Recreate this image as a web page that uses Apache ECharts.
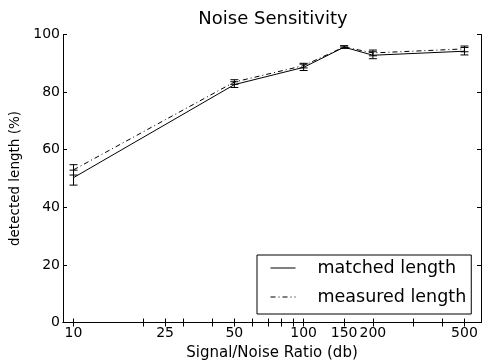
<!DOCTYPE html>
<html>
<head>
<meta charset="utf-8">
<script src="https://cdn.jsdelivr.net/npm/echarts@6/dist/echarts.min.js"></script>
<style>html,body{margin:0;padding:0;background:#fff}#c{width:483px;height:360px}</style>
</head>
<body>
<div id="c"></div>
<script>
const xTickLabels = [10, 25, 50, 100, 150, 200, 500];
const xTicks = [10, 20, 25, 30, 40, 50, 60, 70, 80, 90, 100, 150, 200, 300, 400, 500];
const snr = [10, 50, 100, 150, 200, 500];
const matched = [50.3, 82.6, 88.6, 95.6, 92.8, 94.2];
const matchedErr = [2.6, 1.0, 1.1, 0.4, 1.2, 1.3];
const measured = [53.0, 83.5, 89.2, 95.7, 93.6, 95.0];
const measuredErr = [1.8, 0.8, 0.8, 0.4, 1.0, 1.0];
const xMin = 9, xMax = 590;

const FONT = 'DejaVu Sans';
const lg = v => Math.log10(v);
const chart = echarts.init(document.getElementById('c'));

function errBar(params, api) {
  const x = api.value(0), y = api.value(1), e = api.value(2);
  const t = api.coord([x, y + e]), b = api.coord([x, y - e]);
  const w = 4;
  const st = {stroke: '#000', lineWidth: 1};
  return {type: 'group', children: [
    {type: 'line', shape: {x1: t[0], y1: t[1], x2: b[0], y2: b[1]}, style: st},
    {type: 'line', shape: {x1: t[0]-w, y1: t[1], x2: t[0]+w, y2: t[1]}, style: st},
    {type: 'line', shape: {x1: b[0]-w, y1: b[1], x2: b[0]+w, y2: b[1]}, style: st}
  ]};
}

const axisLineStyle = {lineStyle: {color: '#000', width: 1}};
const option = {
  animation: false,
  backgroundColor: '#fff',
  textStyle: {fontFamily: FONT},
  title: {
    text: 'Noise Sensitivity', left: 268, top: 5, textAlign: 'center',
    textStyle: {fontFamily: FONT, fontSize: 18, fontWeight: 'normal', color: '#000'}
  },
  grid: {left: 63, right: 2, top: 34.5, bottom: 37.5, containLabel: false, outerBoundsMode: 'none'},
  legend: {
    orient: 'vertical', left: 257, top: 255,
    padding: [3, 5, 7, 13], itemGap: 9, itemWidth: 25, itemHeight: 20,
    backgroundColor: '#fff', borderColor: '#000', borderWidth: 1, borderRadius: 0,
    data: ['matched length', 'measured length'],
    itemStyle: {opacity: 0},
    lineStyle: {width: 1},
    textStyle: {fontFamily: FONT, fontSize: 17.5, lineHeight: 20, color: '#000', padding: [0, 0, 0, 17]}
  },
  xAxis: [{
    type: 'value', min: lg(xMin), max: lg(xMax),
    name: 'Signal/Noise Ratio (db)', nameLocation: 'middle', nameGap: 23,
    nameTextStyle: {fontFamily: FONT, fontSize: 15, color: '#000'},
    axisLine: axisLineStyle,
    axisTick: {inside: true, length: 4, customValues: xTicks.map(lg), lineStyle: {color: '#000'}},
    axisLabel: {customValues: xTickLabels.map(lg), formatter: v => String(Math.round(Math.pow(10, v))),
      fontFamily: FONT, fontSize: 14, color: '#000', margin: 4},
    splitLine: {show: false}
  }, {
    type: 'value', position: 'top', min: lg(xMin), max: lg(xMax),
    axisLine: axisLineStyle,
    axisTick: {inside: true, length: 4, customValues: xTicks.map(lg), lineStyle: {color: '#000'}},
    axisLabel: {show: false}, splitLine: {show: false}
  }],
  yAxis: [{
    type: 'value', min: 0, max: 100, interval: 20,
    name: 'detected length (%)', nameLocation: 'middle', nameGap: 38,
    nameTextStyle: {fontFamily: FONT, fontSize: 13.5, color: '#000'},
    axisLine: {show: true, lineStyle: {color: '#000', width: 1}},
    axisTick: {show: true, inside: true, length: 4, lineStyle: {color: '#000'}},
    axisLabel: {fontFamily: FONT, fontSize: 14, color: '#000', margin: 3},
    splitLine: {show: false}
  }, {
    type: 'value', position: 'right', min: 0, max: 100, interval: 20,
    axisLine: {show: true, lineStyle: {color: '#000', width: 1}},
    axisTick: {show: true, inside: true, length: 4, lineStyle: {color: '#000'}},
    axisLabel: {show: false}, splitLine: {show: false}
  }],
  series: [
    {
      name: 'matched length', type: 'line', symbol: 'none',
      data: snr.map((s, i) => [lg(s), matched[i]]),
      lineStyle: {color: '#000', width: 1, type: 'solid'}, itemStyle: {color: '#000', opacity: 0}
    },
    {
      name: 'measured length', type: 'line', symbol: 'none',
      data: snr.map((s, i) => [lg(s), measured[i]]),
      lineStyle: {color: '#000', width: 1, type: [5, 3, 1, 3]}, itemStyle: {color: '#000', opacity: 0}
    },
    {
      name: 'matched err', type: 'custom', renderItem: errBar,
      data: snr.map((s, i) => [lg(s), matched[i], matchedErr[i]]),
      encode: {x: 0, y: 1}, z: 3
    },
    {
      name: 'measured err', type: 'custom', renderItem: errBar,
      data: snr.map((s, i) => [lg(s), measured[i], measuredErr[i]]),
      encode: {x: 0, y: 1}, z: 3
    }
  ]
};
chart.setOption(option);
</script>
</body>
</html>
